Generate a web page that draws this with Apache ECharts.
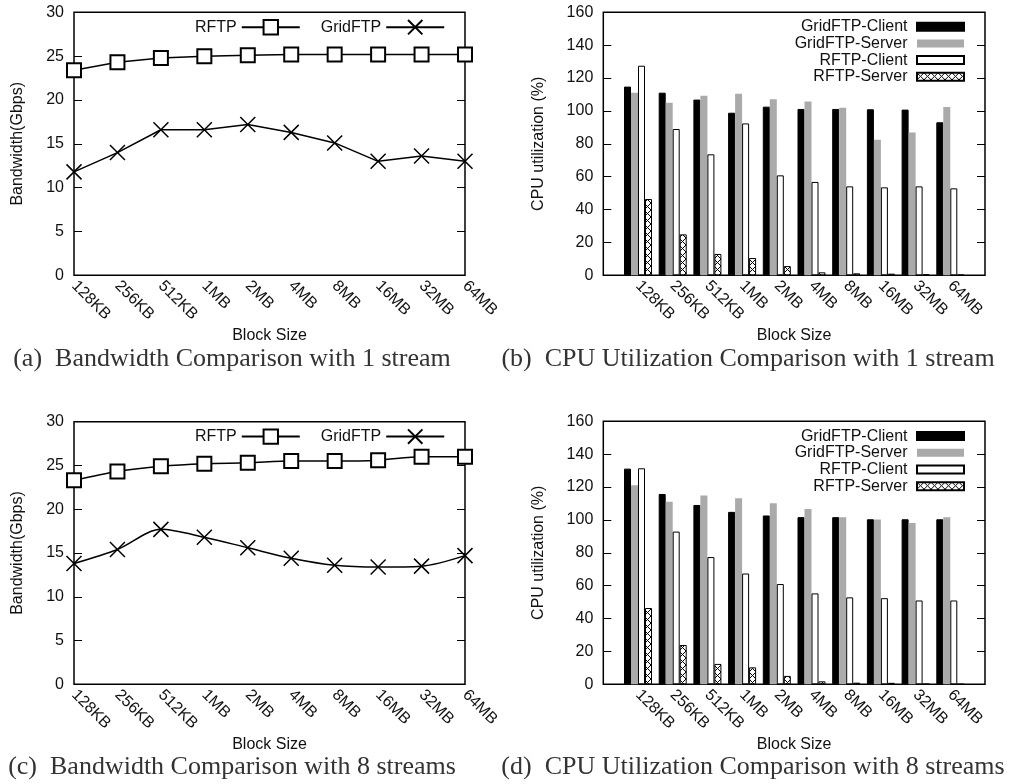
<!DOCTYPE html>
<html>
<head>
<meta charset="utf-8">
<script src="https://cdn.jsdelivr.net/npm/echarts@6/dist/echarts.min.js"></script>
<style>
html,body{margin:0;padding:0;background:#fff;}
#c{width:1010px;height:784px;}
</style>
</head>
<body>
<div id="c"></div>
<script>
// ---- data ----
const categories = ['128KB','256KB','512KB','1MB','2MB','4MB','8MB','16MB','32MB','64MB'];
const bwTicks = [0,5,10,15,20,25,30];
const cpuTicks = [0,20,40,60,80,100,120,140,160];

// (a) bandwidth, 1 stream
const rftp1 = [23.4, 24.3, 24.8, 25.0, 25.1, 25.2, 25.2, 25.2, 25.2, 25.2];
const gridftp1 = [11.8, 14.0, 16.6, 16.6, 17.2, 16.3, 15.1, 13.0, 13.6, 13.0];
// (c) bandwidth, 8 streams
const rftp8 = [23.3, 24.3, 24.9, 25.2, 25.3, 25.5, 25.5, 25.6, 26.0, 26.0];
const gridftp8 = [13.8, 15.4, 17.7, 16.8, 15.6, 14.4, 13.6, 13.4, 13.5, 14.7];

// (b) CPU, 1 stream
const gfClient1 = [114.8, 111.1, 106.9, 98.9, 102.6, 101.2, 101.2, 101.0, 100.8, 93.1];
const gfServer1 = [111.1, 105.0, 109.3, 110.5, 107.1, 105.8, 102.0, 82.5, 86.8, 102.4];
const rfClient1 = [127.5, 89.0, 73.6, 92.4, 60.8, 56.8, 54.1, 53.5, 54.1, 52.9];
const rfServer1 = [46.4, 24.9, 13.0, 10.5, 5.6, 1.8, 1.2, 1.0, 0.6, 0.3];
// (d) CPU, 8 streams
const gfClient8 = [131.2, 115.8, 109.1, 104.9, 102.7, 101.7, 101.7, 100.4, 100.4, 100.4];
const gfServer8 = [121.1, 111.0, 114.8, 113.2, 110.2, 106.7, 101.7, 100.2, 98.2, 101.7];
const rfClient8 = [131.4, 92.9, 77.4, 67.4, 61.0, 55.3, 52.9, 52.4, 51.0, 51.0];
const rfServer8 = [46.4, 23.9, 12.4, 10.3, 5.1, 1.8, 1.0, 0.9, 0.2, 0.1];

const captions = [
  '(a)  Bandwidth Comparison with 1 stream',
  '(b)  CPU Utilization Comparison with 1 stream',
  '(c)  Bandwidth Comparison with 8 streams',
  '(d)  CPU Utilization Comparison with 8 streams'
];

// ---- styling / layout ----
const SANS = 'Liberation Sans';
const SERIF = 'Liberation Serif';
const TXT = '#111';

const hatch = document.createElement('canvas');
hatch.width = 7; hatch.height = 7;
(function(){
  const g = hatch.getContext('2d');
  g.fillStyle = '#fff'; g.fillRect(0,0,7,7);
  g.strokeStyle = '#000'; g.lineWidth = 1;
  g.beginPath(); g.moveTo(0,0); g.lineTo(7,7); g.moveTo(7,0); g.lineTo(0,7); g.stroke();
})();

const pad = arr => [null].concat(arr, [null]);
const padCats = [''].concat(categories, ['']);

const grids = [
  {left: 74, top: 12.3, width: 391, height: 263},
  {left: 603.3, top: 12.3, width: 381.7, height: 263},
  {left: 74, top: 421.7, width: 391, height: 262.6},
  {left: 603.3, top: 421.3, width: 381.7, height: 263}
];

const option = {
  animation: false,
  backgroundColor: '#fff',
  grid: grids.map(g => Object.assign({show: true, borderColor: '#000', borderWidth: 1.5, backgroundColor: 'transparent', containLabel: false, outerBoundsMode: 'none'}, g)),
  xAxis: [0,1,2,3].map(i => {
    const isBar = (i === 1 || i === 3);
    return {
      type: 'category', gridIndex: i,
      data: isBar ? padCats : categories,
      boundaryGap: false,
      axisLine: {show: false}, axisTick: {show: false}, splitLine: {show: false},
      axisLabel: {interval: 0, rotate: -45, margin: 8, fontFamily: SANS, fontSize: 16, color: TXT},
      name: 'Block Size', nameLocation: 'middle', nameGap: 52,
      nameTextStyle: {fontFamily: SANS, fontSize: 16, color: TXT}
    };
  }),
  yAxis: [],
  legend: [],
  series: [],
  graphic: []
};

[0,1,2,3].forEach(i => {
  const isBar = (i === 1 || i === 3);
  const ticks = isBar ? cpuTicks : bwTicks;
  const base = {
    type: 'value', gridIndex: i, min: ticks[0], max: ticks[ticks.length-1], interval: ticks[1]-ticks[0],
    splitLine: {show: false}, axisLine: {show: false},
    axisTick: {show: true, inside: true, length: 8, lineStyle: {color: '#000', width: 1}}
  };
  option.yAxis.push(Object.assign({}, base, {
    position: 'left',
    axisLabel: {margin: 10, fontFamily: SANS, fontSize: 16, color: TXT},
    name: isBar ? 'CPU utilization (%)' : 'Bandwidth(Gbps)',
    nameLocation: 'middle', nameGap: isBar ? 57 : 48,
    nameTextStyle: {fontFamily: SANS, fontSize: 16, color: TXT}
  }));
  option.yAxis.push(Object.assign({}, base, {position: 'right', axisLabel: {show: false}}));
});

const XPATH = 'path://M0,0L10,10M10,0L0,10';
function lineSeries(name, data, idx, isX, smooth) {
  return {
    type: 'line', name: name, data: data, xAxisIndex: idx, yAxisIndex: idx*2,
    smooth: smooth,
    symbol: isX ? XPATH : 'emptyRect',
    symbolSize: isX ? 15 : 14,
    lineStyle: {color: '#000', width: 1.5},
    itemStyle: {color: '#000', borderColor: '#000', borderWidth: 1.5},
    z: 3
  };
}
option.series.push(lineSeries('RFTP', rftp1, 0, false, false));
option.series.push(lineSeries('GridFTP', gridftp1, 0, true, false));
option.series.push(lineSeries('RFTP', rftp8, 2, false, 0.3));
option.series.push(lineSeries('GridFTP', gridftp8, 2, true, 0.3));

const barStyles = {
  'GridFTP-Client': {color: '#000', borderColor: '#000', borderWidth: 1},
  'GridFTP-Server': {color: '#aaaaaa', borderWidth: 0},
  'RFTP-Client': {color: '#fff', borderColor: '#000', borderWidth: 1},
  'RFTP-Server': {color: {image: hatch, repeat: 'repeat'}, borderColor: '#000', borderWidth: 1}
};
function barSeries(name, data, idx) {
  return {
    type: 'bar', name: name, data: pad(data), xAxisIndex: idx, yAxisIndex: idx*2,
    barWidth: 7, barGap: '0%',
    itemStyle: barStyles[name]
  };
}
[[1, [gfClient1, gfServer1, rfClient1, rfServer1]], [3, [gfClient8, gfServer8, rfClient8, rfServer8]]].forEach(([idx, arrs]) => {
  ['GridFTP-Client','GridFTP-Server','RFTP-Client','RFTP-Server'].forEach((n, k) => option.series.push(barSeries(n, arrs[k], idx)));
});

// legends
[19, 428.4].forEach(top => {
  option.legend.push({
    orient: 'horizontal', align: 'right', left: 195, top: top, padding: 0,
    itemWidth: 58, itemHeight: 18, itemGap: 20,
    data: ['RFTP', 'GridFTP'],
    textStyle: {fontFamily: SANS, fontSize: 16, color: TXT},
    selectedMode: false
  });
});
[18.7, 428.1].forEach(top => {
  option.legend.push({
    orient: 'vertical', align: 'right', right: 45, top: top, padding: 0,
    itemWidth: 47, itemHeight: 8, itemGap: 0.7, icon: 'rect',
    data: ['GridFTP-Client','GridFTP-Server','RFTP-Client','RFTP-Server'],
    formatter: '{name} ',
    textStyle: {fontFamily: SANS, fontSize: 16, color: TXT},
    selectedMode: false
  });
});

// captions
const capPos = [[232, 359], [748, 359], [232, 767], [753, 767]];
captions.forEach((t, i) => {
  option.graphic.push({
    type: 'text', x: capPos[i][0], y: capPos[i][1],
    style: {text: t, fontFamily: SERIF, fontSize: 26, fill: '#333', align: 'center', verticalAlign: 'middle'}
  });
});

const chart = echarts.init(document.getElementById('c'), null, {renderer: 'canvas'});
chart.setOption(option);
</script>
</body>
</html>
